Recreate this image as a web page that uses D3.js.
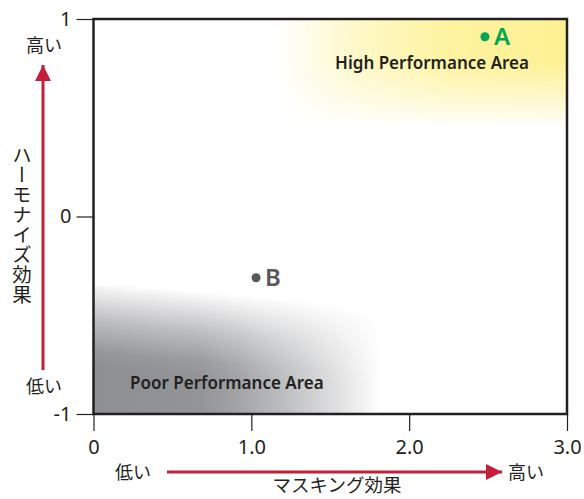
<!DOCTYPE html>
<html><head><meta charset="utf-8">
<script src="https://cdn.jsdelivr.net/npm/d3@7"></script>
<style>
html,body{margin:0;padding:0;background:#fff;}
text{font-family:"Noto Sans","Noto Sans CJK JP",sans-serif;}
.jp{font-family:"Noto Sans CJK JP",sans-serif;}
</style></head>
<body>
<svg id="c" width="584" height="499"></svg>
<script>
const xTicks = [0, 1, 2, 3];
const xTickLabels = ["0", "1.0", "2.0", "3.0"];
const yTicks = [-1, 0, 1];
const yTickLabels = ["-1", "0", "1"];
const pointNames = ["A", "B"];
const pointX = [2.48, 1.03];
const pointY = [0.91, -0.31];
const pointColors = ["#00a651", "#58595b"];
const areaNames = ["High Performance Area", "Poor Performance Area"];
const xAxisTitle = "マスキング効果";
const yAxisTitle = "ハーモナイズ効果";
const lowLabel = "低い", highLabel = "高い";

const svg = d3.select("#c");
const L = 93.5, R = 567, T = 19, B = 414;
const x = d3.scaleLinear().domain([0, 3]).range([L, R]);
const y = d3.scaleLinear().domain([-1, 1]).range([B, T]);

const defs = svg.append("defs");
// yellow gradient
const gy = defs.append("linearGradient").attr("id", "gy").attr("x1", 0).attr("x2", 1).attr("y1", 0).attr("y2", 0);
gy.append("stop").attr("offset", 0).attr("stop-color", "#fdf295").attr("stop-opacity", 0);
gy.append("stop").attr("offset", 0.3).attr("stop-color", "#fdf295").attr("stop-opacity", 0.55);
gy.append("stop").attr("offset", 0.6).attr("stop-color", "#fdf295").attr("stop-opacity", 0.9);
gy.append("stop").attr("offset", 1).attr("stop-color", "#fdf08d").attr("stop-opacity", 0.95);
const my = defs.append("linearGradient").attr("id", "mgy").attr("x1", 0).attr("x2", 0).attr("y1", 0).attr("y2", 1);
my.append("stop").attr("offset", 0).attr("stop-color", "#fff");
my.append("stop").attr("offset", 0.4).attr("stop-color", "#fff");
my.append("stop").attr("offset", 0.75).attr("stop-color", "#777");
my.append("stop").attr("offset", 1).attr("stop-color", "#000");
const maskY = defs.append("mask").attr("id", "maskY");
maskY.append("rect").attr("x", x(1.15)).attr("y", y(1)).attr("width", x(3) - x(1.15)).attr("height", y(0.45) - y(1)).attr("fill", "url(#mgy)");

// gray gradient
const gg = defs.append("linearGradient").attr("id", "gg").attr("x1", 0).attr("x2", 1).attr("y1", 0).attr("y2", 0);
[[0, "#8e8f93"], [0.37, "#939498"], [0.5, "#a2a3a7"], [0.7, "#c3c4c6"], [0.86, "#e2e2e3"], [1, "#ffffff"]]
  .forEach(s => gg.append("stop").attr("offset", s[0]).attr("stop-color", s[1]));
const mg = defs.append("linearGradient").attr("id", "mgg").attr("x1", 0.15).attr("x2", 0).attr("y1", 0).attr("y2", 0.75);
[[0, "#000"], [0.08, "#222"], [0.4, "#999"], [0.7, "#eee"], [0.85, "#fff"]]
  .forEach(s => mg.append("stop").attr("offset", s[0]).attr("stop-color", s[1]));
const maskG = defs.append("mask").attr("id", "maskG");
maskG.append("rect").attr("x", x(0)).attr("y", y(-0.35)).attr("width", x(1.82) - x(0)).attr("height", y(-1) - y(-0.35)).attr("fill", "url(#mgg)");

svg.append("rect").attr("x", x(1.15)).attr("y", y(1)).attr("width", x(3) - x(1.15)).attr("height", y(0.45) - y(1))
  .attr("fill", "url(#gy)").attr("mask", "url(#maskY)");
svg.append("rect").attr("x", x(0)).attr("y", y(-0.35)).attr("width", x(1.82) - x(0)).attr("height", y(-1) - y(-0.35))
  .attr("fill", "url(#gg)").attr("mask", "url(#maskG)");

// frame
svg.append("rect").attr("x", L).attr("y", T).attr("width", R - L).attr("height", B - T)
  .attr("fill", "none").attr("stroke", "#231f20").attr("stroke-width", 2.5);

// axes
const xAxis = d3.axisBottom(x).tickValues(xTicks).tickFormat((d, i) => xTickLabels[i]).tickSize(17).tickPadding(6);
const gx = svg.append("g").attr("transform", `translate(0,${B})`).call(xAxis);
gx.select(".domain").remove();
gx.selectAll("line").attr("stroke", "#231f20").attr("stroke-width", 1.2);
gx.selectAll("text").attr("font-size", 20).attr("fill", "#231f20").attr("dy", "0.85em");

const yAxis = d3.axisLeft(y).tickValues(yTicks).tickFormat((d, i) => yTickLabels[i]).tickSize(17).tickPadding(5);
const gyx = svg.append("g").attr("transform", `translate(${L},0)`).call(yAxis);
gyx.select(".domain").remove();
gyx.selectAll("line").attr("stroke", "#231f20").attr("stroke-width", 1.2);
gyx.selectAll("text").attr("font-size", 20).attr("fill", "#231f20");

// area labels
svg.append("text").attr("x", x(2.145)).attr("y", y(0.745)).attr("text-anchor", "middle")
  .attr("font-size", 17).attr("font-weight", 600).attr("fill", "#231f20").text(areaNames[0]);
svg.append("text").attr("x", x(0.845)).attr("y", y(-0.875)).attr("text-anchor", "middle")
  .attr("font-size", 17).attr("font-weight", 600).attr("fill", "#231f20").text(areaNames[1]);

// points
const pts = svg.append("g");
pointNames.forEach((n, i) => {
  pts.append("circle").attr("cx", x(pointX[i])).attr("cy", y(pointY[i])).attr("r", 4.5).attr("fill", pointColors[i]);
  pts.append("text").attr("x", x(pointX[i]) + 9).attr("y", y(pointY[i]) + 8.5)
    .attr("font-size", 24).attr("font-weight", 600).attr("fill", pointColors[i]).text(n);
});

// arrows
const red = "#c41e3a";
defs.append("marker").attr("id", "ah").attr("viewBox", "0 0 10 10").attr("refX", 10).attr("refY", 5)
  .attr("markerWidth", 16).attr("markerHeight", 16).attr("markerUnits", "userSpaceOnUse").attr("orient", "auto")
  .append("path").attr("d", "M0,0 L10,5 L0,10 Z").attr("fill", red);

// y arrow
svg.append("line").attr("x1", 43).attr("y1", 370).attr("x2", 43).attr("y2", 65)
  .attr("stroke", red).attr("stroke-width", 3).attr("marker-end", "url(#ah)");
svg.append("text").attr("class", "jp").attr("x", 44).attr("y", 52).attr("text-anchor", "middle")
  .attr("font-size", 18).attr("fill", "#231f20").text(highLabel);
svg.append("text").attr("class", "jp").attr("x", 44).attr("y", 393).attr("text-anchor", "middle")
  .attr("font-size", 18).attr("fill", "#231f20").text(lowLabel);
svg.append("text").attr("class", "jp").attr("x", 22).attr("y", 145).attr("font-size", 19.5)
  .attr("fill", "#231f20").attr("writing-mode", "vertical-rl").attr("text-orientation", "upright")
  .attr("letter-spacing", 0.5).text(yAxisTitle);

// x arrow
svg.append("line").attr("x1", 167).attr("y1", 472).attr("x2", 502).attr("y2", 472)
  .attr("stroke", red).attr("stroke-width", 3).attr("marker-end", "url(#ah)");
svg.append("text").attr("class", "jp").attr("x", 133).attr("y", 478.5).attr("text-anchor", "middle")
  .attr("font-size", 18).attr("fill", "#231f20").text(lowLabel);
svg.append("text").attr("class", "jp").attr("x", 526).attr("y", 478.5).attr("text-anchor", "middle")
  .attr("font-size", 18).attr("fill", "#231f20").text(highLabel);
svg.append("text").attr("class", "jp").attr("x", 337).attr("y", 492).attr("text-anchor", "middle")
  .attr("font-size", 18.5).attr("fill", "#231f20").text(xAxisTitle);
</script>
</body></html>
